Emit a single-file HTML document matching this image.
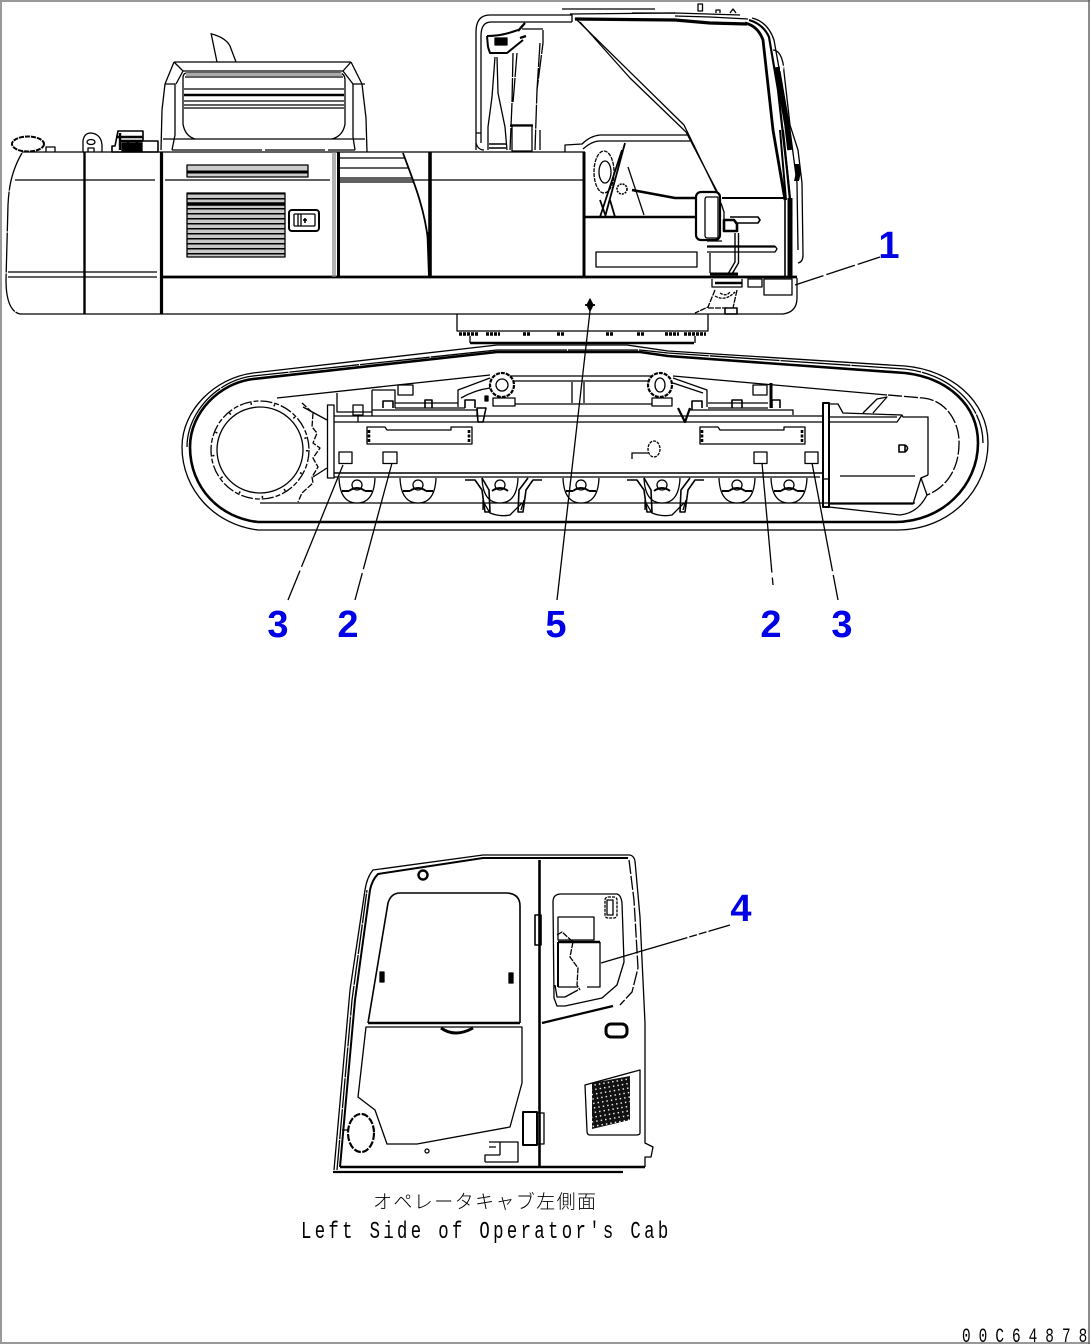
<!DOCTYPE html>
<html><head><meta charset="utf-8"><style>
html,body{margin:0;padding:0;background:#fff}
svg{display:block}
text{fill:#000}
.n{font-family:"Liberation Sans",sans-serif;font-weight:bold;font-size:38px;fill:#0000e6;text-anchor:middle}
</style></head><body>
<svg width="1090" height="1344" viewBox="0 0 1090 1344" xmlns="http://www.w3.org/2000/svg">
<defs>
<pattern id="st" width="10" height="5" patternUnits="userSpaceOnUse" x="0" y="193"><rect width="10" height="5" fill="#c8c8c8"/><rect width="10" height="1.5" fill="#000"/></pattern>
<pattern id="dots" width="4.5" height="4.5" patternUnits="userSpaceOnUse" patternTransform="rotate(-10)"><rect width="4.5" height="4.5" fill="#111"/><rect x="1" y="1" width="1.4" height="1.4" fill="#fff"/></pattern>
</defs>
<rect width="1090" height="1344" fill="#fff"/>
<g fill="none" stroke="#000" stroke-width="1.3" stroke-linejoin="round">
<!-- frame -->
<path d="M0,1 H1090 M1,0 V1344 M0,1343 H1090" stroke="#999" stroke-width="2"/>
<path d="M1089,0 V1344" stroke="#666" stroke-width="1.5"/>

<!-- tank -->
<path d="M22,153 C12,170 9,185 8,205 L6,280 C6,298 10,312 20,314" stroke-dasharray="40 1"/>
<path d="M20,314 H783 Q797,312 797,298 V278"/>
<path d="M22,152 H585"/>
<path d="M15,180 H155 M165,180 H330 M340,180 H583"/>
<path d="M8,272 H157 M8,277 H157"/>
<path d="M84.5,152 V314" stroke-width="2.4"/>
<path d="M161.5,152 V314" stroke-width="3.2"/>
<!-- cap etc -->
<ellipse cx="28" cy="144" rx="16" ry="7.5" stroke-width="2" stroke-dasharray="5 1"/>
<path d="M46,152 V147 H55 V152"/>
<path d="M83,152 V141 Q84,133 91,133 Q101,134 102,145 V152"/>
<ellipse cx="91" cy="142" rx="4" ry="2.5"/>
<path d="M88,152 V148 H94 V152"/>
<path d="M115,146 L118,131 H143 V141 H158 V152 H112 V146 Z" stroke-width="1.6"/>
<path d="M116,137 H143 M121,141 H143 M120,133 V150 M128,141 V150 M137,141 V150" stroke-width="2.4"/>
<rect x="122" y="143" width="20" height="8" fill="#000"/>

<!-- counterweight hood -->
<path d="M211,33 L217,62 M212,34 Q226,38 230,46 L236,62"/>
<path d="M174,62 H351 M183,71 H343"/>
<path d="M174,62 L165,84 L162,110 L161,150 M351,62 L362,84 L366,118 L367,152"/>
<path d="M174,62 L183,71 L176,84 M351,62 L343,71 L353,84"/>
<path d="M165,84 H175 L175,135 L172,150 M365,84 H353 L353,137 L355,150"/>
<path d="M183,78 Q183,73 187,73 H340 Q345,74 345,80 V124 Q343,136 332,139 M183,78 V124 Q185,136 195,139"/>
<path d="M185,77 H343 M184,89 H344 M184,101 H344 M184,105 H344 M184,108 H344"/>
<path d="M184,95 H344" stroke-width="2.6"/>
<path d="M186,74.5 H342" stroke-width="3" stroke="#aaa"/>
<path d="M163,139 H365"/>
<path d="M172,150 H355" stroke-dasharray="90 3 60 3"/>

<!-- panel 2 -->
<rect x="187" y="165" width="121" height="12" fill="#ccc"/>
<path d="M187,172 H308" stroke-width="3"/>
<rect x="187" y="193" width="98" height="64" fill="url(#st)"/>
<path d="M187,203 H285 M187,205 H285" stroke-width="1.6"/>
<rect x="289" y="210" width="30" height="21" rx="3" stroke-width="2"/>
<rect x="294" y="214" width="21" height="12" rx="1"/>
<path d="M298,214 V226 M301,214 V226" stroke-width="1.3"/>
<path d="M303,220 h4 M305,218 v5" stroke-width="1.6"/>
<path d="M163,277 H797" stroke-width="2.7"/>
<path d="M333,152 V277 M335,152 V277" stroke="#888"/>
<path d="M338.5,152 V277" stroke-width="3"/>
<path d="M430,152 V277" stroke-width="3.6"/>
<path d="M339,158 H405 M339,168 H409 M339,178 H412 M339,182 H413"/>
<path d="M403,153 C412,178 424,205 428,240" stroke-width="1.8"/>
<path d="M428,232 L429.5,275" stroke-width="3"/>

<!-- cab post -->
<path d="M476,150 V32 Q476,15 490,15 H572 V22"/>
<path d="M481,143 V36 Q481,22 491,22 H572"/>
<path d="M476,133 H481 M476,143 Q478,150 484,150"/>
<path d="M495,57 L492,97 L488,127 V150 M497,57 L498,93 L505,127 L507,150"/>
<path d="M513,53 L512,103 L510,150 M517,53 L513,103 M543,30 V43 L537,90 L535,150 M540,43 L537,90 M540,130 V150 M522,29 H543" stroke-dasharray="24 1"/>
<rect x="512" y="125" width="20" height="26"/>
<path d="M510,125.5 H533" stroke-width="2.2"/>
<path d="M489,144 H506 M489,148 H506" stroke-width="1.6"/>
<path d="M487,36 Q500,36 512,32 L518,30 M488,47 L490,53 H507 L523,40 M487,36 L488,47" stroke-width="2"/>
<rect x="495" y="38" width="12" height="7" fill="#000"/>
<path d="M518,31 L525,23 M520,38 L526,36" stroke-width="2.4"/>
<!-- cab top -->
<path d="M562,9 H655 M632,13 H675"/>
<path d="M575,19 L675,20 L710,23 L747,24" stroke-width="3.2"/>
<path d="M570,14 L675,13 L740,15"/>
<path d="M675,16 L710,17 L748,19"/>
<rect x="698" y="4" width="4.5" height="7"/>
<path d="M716,13 V10 H720 V13 M730,13 L733,9 L736,13"/>
<!-- right pillar -->
<path d="M745,23 Q758,26 763,40 L773,130 L785,200" stroke-width="2.8"/>
<path d="M749,20 Q763,24 769,37 L778,90 L787,170 L790,200" stroke-width="2.2"/>
<path d="M752,18 Q768,22 774,40 L790,130 L797,183 L798,250"/>
<path d="M777,67 L787,125 L790,150" stroke-width="5.5"/>
<path d="M780,130 L786,200 M783,130 L790,198" stroke-width="2"/>
<path d="M773,50 Q780,50 783,63 L790,125 L798,150 L802,183 L803,255 Q803,262 798,263"/>
<path d="M780,64 l4,2 l-1,5 l-3,0 z" fill="#fff" stroke="none"/>
<path d="M794,164 h5 l2,8 l-2,9 h-5 l2,-9 z" fill="#000" stroke="none"/>
<path d="M790,198 V277" stroke-width="5"/>
<path d="M785,198 V277" stroke-width="1.6"/>
<!-- glass strut -->
<path d="M575,18 L684,125 L717,193"/>
<path d="M580,22 L630,78 L686,132 L719,195"/>
<!-- lower cab -->
<path d="M600,135 H688 M600,141 H690"/>
<path d="M600,135 Q590,136 582,144 L565,145 V152 M600,141 Q592,141 583,149"/>
<path d="M584,152 V277" stroke-width="3"/>
<path d="M584,217 H696" stroke-width="2.4"/>
<path d="M722,198 H785" stroke-width="2"/>
<path d="M632,190 L675,198 H697" stroke-width="2.6"/>
<rect x="596" y="252" width="101" height="15"/>
<ellipse cx="604" cy="172" rx="10" ry="21" stroke-dasharray="4 1"/>
<ellipse cx="605" cy="172" rx="6" ry="11"/>
<path d="M625,143 L605,217 M622,150 L600,217" stroke-width="1.8"/>
<path d="M628,167 L644,215"/>
<circle cx="622" cy="189" r="5" stroke-dasharray="2 1" stroke-width="1.6"/>
<path d="M600,200 L606,217 M610,200 L615,217" stroke-width="1.8"/>
<!-- mirror -->
<rect x="696" y="192" width="24" height="48" rx="5" stroke-width="2.2"/>
<path d="M707,197 H718 V238 H707 Q705,238 705,235 V200 Q705,197 707,197 Z"/>
<path d="M721,203 L724,212 V220"/>
<path d="M730,217 H758 L760,220 L758,223 H735" stroke-width="1.6"/>
<path d="M724,220 h10 l3,4 v7 h-13 z" stroke-width="2.6"/>
<path d="M707,246.5 H775" stroke-width="2.2"/>
<path d="M707,252 H775 L777,249 L775,246"/>
<path d="M707,241 H722 M710,253 V273"/>
<path d="M735,233 V262 L728,274 M738.5,233 V263 L732,274" stroke-width="1.4"/>
<path d="M710,274 H738" stroke-width="3"/>
<!-- deck detail -->
<rect x="764" y="279" width="28" height="16"/>
<rect x="748" y="279" width="14" height="8"/>
<path d="M712,279 V287 H742 V279" />
<path d="M715,283 H742" stroke-width="2.4"/>
<path d="M715,290 L708,307 L695,313 M737,290 L733,308 M708,308 H727" stroke-dasharray="6 1"/>
<path d="M715,296 Q725,302 735,292 M720,293 Q726,297 730,292" stroke-dasharray="3 1"/>
<rect x="725" y="308" width="12" height="6" stroke-width="1.6"/>
<path d="M590,299 L593,305 L590,311 L587,305 Z" fill="#000"/>
<path d="M585,305 H595" stroke-width="1.8"/>
<!-- swing -->
<path d="M457,314 V331 H708 V314"/>
<path d="M459,334 h20 M486,334 h14 M523,334 h8 M557,334 h8 M606,334 h8 M637,334 h8 M665,334 h14 M684,334 h22" stroke-width="3.4" stroke-dasharray="3 1"/>
<path d="M470,336 V343 M695,336 V343"/>
<path d="M470,343 H694" stroke-width="2.4"/>

<!-- track -->
<path d="M258,530 H897 C950,530 988,490 988,443 C988,400 950,370 905,366 L668,351 L627,345 H497 L253,373 C215,378 182,410 182,447 C182,490 215,525 258,530 Z"/>
<path d="M258,522 H895 C942,522 978,486 978,443 C978,405 948,378 905,373 L668,356 L640,352 H497 L253,379 C220,383 190,412 190,447 C190,488 220,518 258,522" stroke-width="2.6"/>
<path d="M497,350 H640 L668,353 L905,369 C950,374 983,405 983,443 M187,447 C187,412 218,380 253,376 L497,350" stroke-dasharray="70 1"/>
<path d="M260,503 H915"/>
<!-- sprocket -->
<circle cx="260" cy="450" r="43"/>
<circle cx="260" cy="450" r="49" stroke-dasharray="12 2 5 2"/>
<circle cx="260" cy="450" r="47" stroke-width="2.2" stroke-dasharray="1.5 22"/>
<path d="M302,403 L313,413 L312,427 L317,433 L313,443 L320,448 L313,458 L318,467 L312,477 L313,483 L302,493 L298,502" stroke-dasharray="6 1.5"/>
<path d="M303,407 L327,420 M313,477 L327,468"/>
<path d="M277,398 L490,375"/>
<!-- frame of track -->
<path d="M334,416 H823 M334,422 H823"/>
<path d="M334,473 H823" stroke-width="1.6"/>
<path d="M334,477 H820"/>
<rect x="327.5" y="405" width="6.5" height="73"/>
<rect x="823" y="403" width="6" height="104" stroke-width="2"/>
<path d="M823,479 H829"/>
<!-- slots -->
<path d="M367,427 H385 L387,430 H451 V427 H472 V444 H367 Z"/>
<path d="M700,427 H718 L720,430 H784 V427 H805 V444 H700 Z"/>
<path d="M369,430 v12 M469,430 v12 M702,430 v12 M802,430 v12" stroke-width="2.6" stroke-dasharray="3 1.5"/>
<!-- decals -->
<rect x="339" y="452" width="13" height="11.5"/>
<rect x="383" y="452" width="14" height="11.5"/>
<rect x="754" y="452" width="13" height="11.5"/>
<rect x="805" y="452" width="13" height="11.5"/>
<!-- rollers -->
<g>
<path d="M339,478 Q340,503 357,503 Q374,503 375,478" fill="#fff"/><circle cx="357" cy="485" r="5"/><path d="M349,491 Q357,485 365,491 M342,491 H349 M365,491 H372" stroke-width="2"/>
<path d="M400,478 Q401,503 418,503 Q435,503 436,478" fill="#fff"/><circle cx="418" cy="485" r="5"/><path d="M410,491 Q418,485 426,491 M403,491 H410 M426,491 H433" stroke-width="2"/>
<path d="M482,478 Q483,503 500,503 Q517,503 518,478" fill="#fff"/><circle cx="500" cy="485" r="5"/><path d="M492,491 Q500,485 508,491" stroke-width="2"/>
<path d="M484,503 L490,513 Q500,517 510,515 L522,503 M483,500 L483,510 M524,500 L521,510"/>
<path d="M465,480 H475 L482,490 L485,512 H490 L489,490 L482,478 M528,478 L519,490 L518,512 H523 L526,490 L533,480 H542" stroke-width="1.6"/>
<path d="M563,478 Q564,503 581,503 Q598,503 599,478" fill="#fff"/><circle cx="581" cy="485" r="5"/><path d="M573,491 Q581,485 589,491 M566,491 H573 M589,491 H596" stroke-width="2"/>
<path d="M644,478 Q645,503 662,503 Q679,503 680,478" fill="#fff"/><circle cx="662" cy="485" r="5"/><path d="M654,491 Q662,485 670,491" stroke-width="2"/>
<path d="M646,503 L652,513 Q662,517 672,515 L684,503 M645,500 L645,510 M686,500 L683,510"/>
<path d="M627,480 H637 L644,490 L647,512 H652 L651,490 L644,478 M690,478 L681,490 L680,512 H685 L688,490 L695,480 H704" stroke-width="1.6"/>
<path d="M719,478 Q720,503 737,503 Q754,503 755,478" fill="#fff"/><circle cx="737" cy="485" r="5"/><path d="M729,491 Q737,485 745,491 M722,491 H729 M745,491 H752" stroke-width="2"/>
<path d="M771,478 Q772,503 789,503 Q806,503 807,478" fill="#fff"/><circle cx="789" cy="485" r="5"/><path d="M781,491 Q789,485 797,491 M774,491 H781 M797,491 H804" stroke-width="2"/>
</g>
<!-- upper carrier -->
<path d="M496,376 H660 M496,381 H660"/>
<path d="M515,404 H652"/>
<path d="M572,382 V403 M584,382 V403"/>
<circle cx="502" cy="385" r="12" stroke-width="2.2" stroke-dasharray="4 1" fill="#fff"/><circle cx="502" cy="385" r="6"/>
<circle cx="660" cy="385" r="12" stroke-width="2.2" stroke-dasharray="4 1" fill="#fff"/><ellipse cx="660" cy="385" rx="5" ry="7"/>
<rect x="493" y="398" width="22" height="8"/><rect x="652" y="398" width="20" height="8"/>
<path d="M458,407 V390 L490,378 M461,398 Q475,390 490,388"/>
<path d="M673,378 L707,390 V407 M673,383 L703,393"/>
<path d="M673,376 L887,395"/>
<!-- left carrier parts -->
<path d="M337,393 V412 H372"/>
<path d="M372,390 H395 V408 M372,390 V410"/>
<rect x="398" y="385" width="15" height="10"/>
<path d="M395,403 H458 M395,408 H465"/>
<path d="M383,408 V401 H393 V408 M425,408 V400 H432 V408 M465,408 V400 H475 V408" stroke-width="1.6"/>
<path d="M372,410 H477 V416 M372,410 V416"/>
<path d="M353,405 h10 v10 h-10 z M358,416 V422"/>
<path d="M477,408 H486 L483,422 H478 Z" stroke-width="1.6"/>
<rect x="485" y="396" width="3" height="5" fill="#000"/>
<!-- right carrier parts -->
<rect x="753" y="385" width="14" height="10"/>
<path d="M771,383 V408" stroke-width="3"/>
<path d="M708,403 H768 M708,408 H768"/>
<path d="M692,410 V401 H702 V408 M732,408 V400 H742 V408 M772,408 V400 H780 V408" stroke-width="1.6"/>
<path d="M690,410 H793 V415"/>
<path d="M678,408 L685,422 L690,408" stroke-width="2.2"/>
<!-- idler end -->
<path d="M829,404 H838 L843,413 L902,415 L903,417 H928 V475"/>
<path d="M829,422 H897 L902,415 M829,417 H897"/>
<path d="M863,413 L877,399 L887,397 L873,413"/>
<path d="M840,476 H915"/>
<path d="M829,504 H913 L921,478 L928,475"/>
<path d="M829,507 L900,515 Q918,513 927,495 L921,478"/>
<path d="M888,395 L923,398 C945,400 958,420 959,440 C960,470 945,488 927,495" stroke-dasharray="14 2"/>
<path d="M899,445 h6 v7 h-6 z M905,445 q5,3 0,7" stroke-width="1.6"/>
<path d="M632,459 V453 H648"/>
<ellipse cx="654" cy="449" rx="6" ry="8" stroke-dasharray="3 1"/>

<!-- door -->
<path d="M333,1172 H623" stroke-width="2.2"/>
<path d="M340,1167 H645" stroke-width="2.6"/>
<path d="M334,1170 L350,990 L365,890 Q367,877 373,870 L483,855 H630 Q634,856 635,861 L640,917 L645,1023 V1143 L653,1147 L651,1157 H645 V1167"/>
<path d="M629,860 L634,900 L638,968 L632,992 L620,1005" stroke-dasharray="14 2"/>
<path d="M340,1167 L355,1000 L370,890 Q372,880 378,874 L483,858 H628" stroke-width="2"/>
<path d="M337,1170 L352,1000 L367,890" stroke-dasharray="30 1"/>
<path d="M539.5,860 V1167" stroke-width="2.6"/>
<circle cx="423" cy="875" r="4.5" stroke-width="2.4"/>
<path d="M368,1023 L388,903 Q391,893 400,893 H507 Q520,894 520,906 V1023" stroke-width="1.6"/>
<path d="M368,1023 H520" stroke-width="2.4"/>
<path d="M366,1027 H522 V1083 L510,1127 L417,1144 H387 L375,1110 L358,1097 Z"/>
<path d="M441,1028 Q455,1038 473,1028" stroke-width="3"/>
<ellipse cx="361" cy="1133" rx="13" ry="19" stroke-width="2.2" stroke-dasharray="7 1.5"/>
<path d="M342,1130 H349"/>
<circle cx="427" cy="1151" r="2"/>
<rect x="380" y="972" width="4" height="10" fill="#000"/><rect x="509" y="973" width="4" height="10" fill="#000"/>
<rect x="523" y="1112" width="14" height="33" stroke-width="2"/>
<rect x="537" y="1113" width="7" height="31"/>
<path d="M535,915 H541 V945 H535 Z" stroke-width="1.6"/>
<path d="M485,1162 V1155 H500 M500,1142 H518 V1162 H485 M489,1142 H500 V1155 M489,1147 H496" />
<!-- right door parts -->
<path d="M553,902 Q553,894 561,894 H617 Q621,895 622,903 L624,962 L617,985 L602,998 L565,1006 H557 L554,998 Z"/>
<path d="M555,985 L557,997 H565 L578,990"/>
<rect x="605" y="897" width="12" height="21" rx="3" stroke-dasharray="3 1"/>
<rect x="607" y="900" width="6" height="15"/>
<rect x="558" y="917" width="36" height="23"/>
<path d="M558,942 H600" stroke-width="2.4"/>
<path d="M558,942 V987" stroke-width="2"/>
<path d="M558,987 H578 M587,987 H600 V942"/>
<path d="M557,935 L562,932 L573,942 L570,957 L578,968 L577,985 L580,990" stroke-dasharray="6 1"/>
<path d="M542,1023 L613,1006" stroke-width="2.2"/>
<rect x="606" y="1024" width="21" height="13" rx="5" stroke-width="3"/>
<path d="M585,1085 L640,1070 V1133 Q640,1135 636,1135 H590 Q587,1135 587,1131 Z"/>
<path d="M592,1083 L630,1076 V1120 L592,1129 Z" fill="url(#dots)" stroke="none"/>
<!-- leaders -->
<path d="M795,285 L880,257" stroke-dasharray="30 3 30 3"/>
<path d="M343,465 L288,600" stroke-dasharray="110 4"/>
<path d="M392,463 L355,600" stroke-dasharray="110 4"/>
<path d="M590,311 L557,600"/>
<path d="M762,463 L773,585" stroke-dasharray="110 5"/>
<path d="M812,463 L838,600" stroke-dasharray="110 4"/>
<path d="M601,963 L730,925" stroke-dasharray="90 2 8 2 8 2"/>
</g>
<text class="n" x="889" y="258">1</text>
<text class="n" x="278" y="637">3</text>
<text class="n" x="348" y="637">2</text>
<text class="n" x="556" y="637">5</text>
<text class="n" x="771" y="637">2</text>
<text class="n" x="842" y="637">3</text>
<text class="n" x="741" y="921">4</text>
<text x="373" y="1208" font-family="'Liberation Sans','Noto Sans CJK JP',sans-serif" font-size="19" font-weight="300" textLength="223" lengthAdjust="spacing">オペレータキャブ左側面</text>
<text transform="translate(301,1238) scale(.72,1)" font-family="'Liberation Mono',monospace" font-size="24" textLength="510" lengthAdjust="spacing">Left Side of Operator's Cab</text>
<text transform="translate(962,1342) scale(.72,1)" font-family="'Liberation Mono',monospace" font-size="20" textLength="174" lengthAdjust="spacing">00C64878</text>
</svg>
</body></html>
